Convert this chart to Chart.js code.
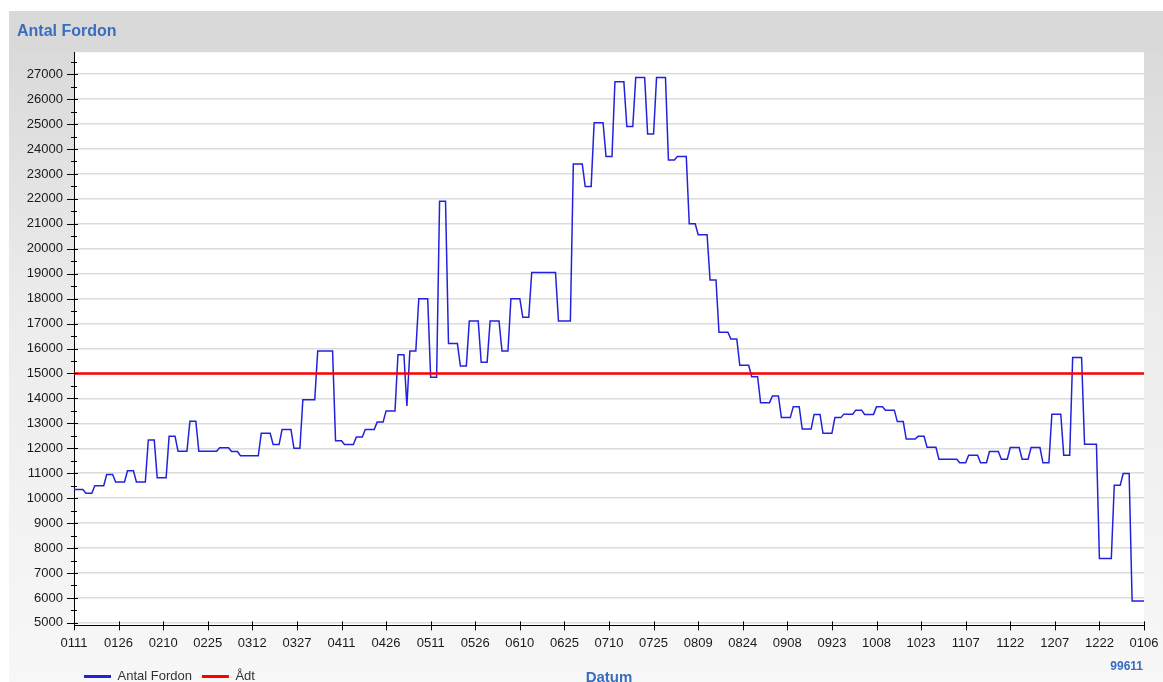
<!DOCTYPE html>
<html>
<head>
<meta charset="utf-8">
<title>Antal Fordon</title>
<script src="https://cdn.jsdelivr.net/npm/chart.js@4.4.1/dist/chart.umd.min.js"></script>
<style>
  html, body { margin: 0; padding: 0; background: #fff; overflow: hidden; }
  #wrap {
    position: absolute; left: 9px; top: 11px; width: 1154px; height: 690px;
    background:
      linear-gradient(#d9d9d9, #d9d9d9) top / 100% 41px no-repeat,
      linear-gradient(to bottom, #dadada 41px, #ececec 300px, #f8f8f8 100%);
  }
</style>
</head>
<body>
<div id="wrap"><canvas id="myChart"></canvas></div>
<script>
// x axis is day number counted from 0111 (0 .. 360), a label every 15 days
const tickLabels = ['0111', '0126', '0210', '0225', '0312', '0327', '0411', '0426', '0511', '0526',
    '0610', '0625', '0710', '0725', '0809', '0824', '0908', '0923', '1008', '1023',
    '1107', '1122', '1207', '1222', '0106']
const lastDay = 360

// Antal Fordon: each value holds from its start day until the next start day
const startDays = [0, 4, 7, 11, 14, 18, 21, 25, 28, 32,
    35, 39, 42, 49, 53, 56, 63, 67, 70, 74,
    77, 82, 88, 91, 95, 98, 102, 105, 109, 112,
    113, 116, 120, 123, 126, 130, 133, 137, 140, 144,
    147, 151, 154, 163, 168, 172, 175, 179, 182, 186,
    189, 193, 196, 200, 203, 207, 210, 214, 217, 221,
    224, 228, 231, 235, 238, 242, 245, 249, 252, 256,
    259, 263, 266, 270, 273, 277, 280, 284, 287, 291,
    298, 301, 305, 308, 312, 315, 319, 322, 326, 329,
    333, 336, 340, 345, 350, 353, 356]
const antalFordon = [10350, 10200, 10500, 10950, 10650, 11100, 10650, 12330, 10820, 12480,
    11880, 13080, 11880, 12020, 11870, 11700, 12600, 12150, 12750, 12000,
    13950, 15900, 12300, 12150, 12450, 12750, 13050, 13500, 15750, 13700,
    15900, 18000, 14850, 21900, 16200, 15300, 17100, 15450, 17100, 15900,
    18000, 17250, 19050, 17100, 23400, 22500, 25050, 23700, 26700, 24900,
    26870, 24600, 26870, 23560, 23700, 21000, 20560, 18750, 16650, 16380,
    15330, 14870, 13830, 14100, 13230, 13670, 12770, 13360, 12600, 13230,
    13370, 13530, 13360, 13670, 13530, 13070, 12370, 12480, 12040, 11560,
    11420, 11720, 11420, 11870, 11560, 12030, 11560, 12030, 11420, 13370,
    11720, 15640, 12160, 7580, 10520, 10990, 5880]

// Ådt (average daily traffic)
const adt = 15000

// y axis: labelled every 1000, small tick every 500
const yFirstTick = 5000
const yLastTick = 27500
const yMinorStep = 500

const stationId = '99611'
const xTitle = 'Datum'

const fordonPoints = []
startDays.forEach((day, i) => {
    const end = i + 1 < startDays.length ? startDays[i + 1] - 1 : lastDay
    fordonPoints.push({ x: day, y: antalFordon[i] })
    if (end > day) fordonPoints.push({ x: end, y: antalFordon[i] })
})

const fontFamily = '"Liberation Sans", Arial, sans-serif'
const blue = '#3a6cc0'
Chart.defaults.font.family = fontFamily

// white plot area, crossing tick marks, axis title and station number
const chartDecor = {
    id: 'chartDecor',
    beforeDraw(chart) {
        const { ctx, chartArea } = chart
        ctx.save()
        ctx.fillStyle = '#fff'
        ctx.fillRect(chartArea.left, chartArea.top, chartArea.right - chartArea.left, chartArea.bottom - chartArea.top)
        ctx.restore()
    },
    afterDraw(chart) {
        const { ctx, chartArea, scales } = chart
        ctx.save()
        ctx.strokeStyle = '#000'
        ctx.lineWidth = 1
        ctx.beginPath()
        scales.y.ticks.forEach(t => {
            const y = Math.round(scales.y.getPixelForValue(t.value)) + 0.5
            const major = t.value % 1000 === 0
            ctx.moveTo(chartArea.left - (major ? 7 : 3), y)
            ctx.lineTo(chartArea.left + (major ? 4 : 3), y)
        })
        scales.x.ticks.forEach(t => {
            const x = Math.round(scales.x.getPixelForValue(t.value)) + 0.5
            ctx.moveTo(x, chartArea.bottom - 4)
            ctx.lineTo(x, chartArea.bottom + 5)
        })
        ctx.stroke()

        const hb = chart.legend.legendHitBoxes[0]
        const rowY = hb.top + hb.height / 2
        ctx.fillStyle = blue
        ctx.textBaseline = 'middle'
        ctx.textAlign = 'center'
        ctx.font = 'bold 15px ' + fontFamily
        ctx.fillText(xTitle, (chartArea.left + chartArea.right) / 2, rowY + 1)
        ctx.textAlign = 'right'
        ctx.font = 'bold 12px ' + fontFamily
        ctx.fillText(stationId, chartArea.right - 1, rowY - 10)
        ctx.restore()
    }
}

const canvas = document.getElementById('myChart')

const config = {
    type: 'line',
    data: {
        datasets: [{
            label: 'Antal Fordon',
            data: fordonPoints,
            borderColor: '#2222dd',
            backgroundColor: '#1a1acc',
            borderWidth: 1.5,
            pointRadius: 0,
            tension: 0,
            order: 1
        }, {
            label: 'Ådt',
            data: [{ x: 0, y: adt }, { x: lastDay, y: adt }],
            borderColor: '#ff0000',
            backgroundColor: '#ff0000',
            borderWidth: 2.5,
            pointRadius: 0,
            order: 0
        }]
    },
    options: {
        responsive: true,
        maintainAspectRatio: false,
        animation: false,
        layout: {
            padding: { left: 8, right: 19, top: 0, bottom: 8 }
        },
        scales: {
            x: {
                type: 'linear',
                min: 0,
                max: lastDay,
                grid: { display: false, drawTicks: true, tickLength: 7 },
                border: { color: '#000', width: 1 },
                ticks: {
                    stepSize: 15,
                    autoSkip: false,
                    maxRotation: 0,
                    padding: 3,
                    color: '#1a1a1a',
                    font: { size: 13 },
                    callback: v => tickLabels[Math.round(v / 15)]
                },
                afterFit: s => { s.height += 6 }
            },
            y: {
                min: 4900,
                max: 27880,
                grid: {
                    drawTicks: false,
                    lineWidth: 1.5,
                    color: c => (c.tick && c.tick.value % 1000 === 0) ? '#dcdcdc' : 'rgba(0,0,0,0)'
                },
                border: { color: '#000', width: 1 },
                ticks: {
                    autoSkip: false,
                    padding: 11,
                    color: '#1a1a1a',
                    font: { size: 13 },
                    callback: v => v % 1000 === 0 ? String(v) : ''
                },
                afterBuildTicks: s => {
                    s.ticks = []
                    for (let v = yFirstTick; v <= yLastTick; v += yMinorStep) s.ticks.push({ value: v })
                },
                afterFit: s => { s.width = 57 }
            }
        },
        plugins: {
            title: {
                display: true,
                text: 'Antal Fordon',
                align: 'start',
                color: blue,
                font: { size: 16, weight: 'bold' },
                padding: { top: 11, bottom: 11 }
            },
            legend: {
                position: 'bottom',
                align: 'start',
                fullSize: false,
                labels: {
                    boxWidth: 27,
                    boxHeight: 3,
                    padding: 10,
                    color: '#333',
                    font: { size: 13 },
                    sort: (a, b) => a.datasetIndex - b.datasetIndex,
                    generateLabels: chart => Chart.defaults.plugins.legend.labels.generateLabels(chart)
                        .map(l => ({ ...l, fillStyle: l.strokeStyle, lineWidth: 0 }))
                }
            },
            tooltip: { enabled: false }
        }
    },
    plugins: [chartDecor]
}

if (canvas) {
    new Chart(canvas, config)
}
</script>
</body>
</html>
